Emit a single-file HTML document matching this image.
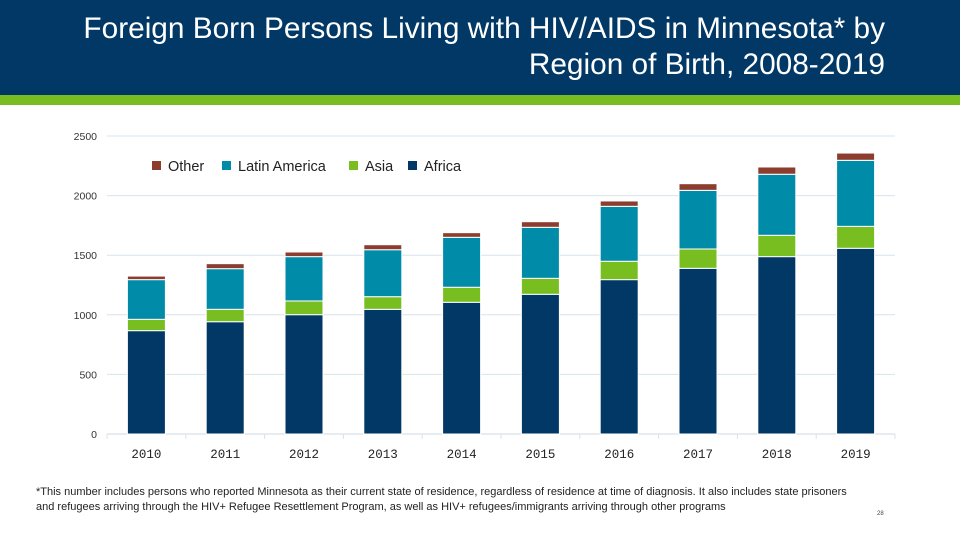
<!DOCTYPE html>
<html><head><meta charset="utf-8"><style>
body{margin:0;width:960px;height:540px;overflow:hidden;background:#fff;font-family:"Liberation Sans",sans-serif;position:relative}
#hdr{position:absolute;left:0;top:0;width:960px;height:95px;background:#013865}
#strip{position:absolute;left:0;top:95px;width:960px;height:10px;background:#78BE20}
#title{position:absolute;right:75px;top:11px;color:#fff;font-size:29.8px;line-height:36px;text-align:right;font-family:"Liberation Sans",sans-serif}
#foot{position:absolute;left:36px;top:485px;font-size:11px;line-height:14.5px;color:#222;white-space:nowrap}
#pg{position:absolute;left:877px;top:511px;font-size:6px;color:#444}
svg{position:absolute;left:0;top:0}
</style></head><body>
<div id="hdr"></div>
<div id="strip"></div>
<div id="title">Foreign Born Persons Living with HIV/AIDS in Minnesota* by<br>Region of Birth, 2008-2019</div>
<svg id="chart" width="960" height="540"></svg>
<div id="foot">*This number includes persons who reported Minnesota as their current state of residence, regardless of residence at time of diagnosis. It also includes state prisoners<br>and refugees arriving through the HIV+ Refugee Resettlement Program, as well as HIV+ refugees/immigrants arriving through other programs</div>
<div id="pg">28</div>
<script>
const years=["2010","2011","2012","2013","2014","2015","2016","2017","2018","2019"];
const africa=[867,942,1001,1046,1105,1172,1295,1390,1488,1558];
const asia=[95,104,115,106,126,134,154,162,179,184];
const latin=[333,341,372,394,419,428,461,492,512,554];
const other=[30,42,39,42,39,47,45,56,61,61];
const yTicks=[0,500,1000,1500,2000,2500];
const seriesNames=["Other","Latin America","Asia","Africa"];
const colors={Africa:"#013865",Asia:"#78BE20",Latin:"#008CA8",Other:"#8C3D2E"};
const NS="http://www.w3.org/2000/svg";
const svg=document.getElementById('chart');
const X0=107,X1=895,Y0=434,YMAX=2500,H=298;
const band=(X1-X0)/years.length;
function y(v){return Y0-v*H/YMAX;}
function xc(i){return X0+band*(i+0.5);}
function el(t,a){const e=document.createElementNS(NS,t);for(const k in a)e.setAttribute(k,a[k]);svg.appendChild(e);return e;}
yTicks.forEach(t=>{
 const l=el('line',{x1:X0,x2:X1,y1:y(t),y2:y(t),stroke:t===0?'#ccd9e0':'#d6e4ec','stroke-width':1});
 
 
 const tx=el('text',{x:97,y:y(t)+4,'text-anchor':'end','font-size':10.5,fill:'#333'});
 tx.textContent=t;
 
 
});
for(let i=0;i<=years.length;i++){
 const l=el('line',{x1:X0+band*i,x2:X0+band*i,y1:Y0,y2:Y0+5,stroke:'#d6e4ec'});
 
 
}
const bw=38;
years.forEach((yr,i)=>{
 const stack=[["Africa",africa[i]],["Asia",asia[i]],["Latin",latin[i]],["Other",other[i]]];
 let base=0;
 stack.forEach(([n,v])=>{
  const r=el('rect',{x:xc(i)-bw/2,y:y(base+v),width:bw,height:v*H/YMAX,fill:colors[n],stroke:'#fff','stroke-width':1});
  
  
  base+=v;
 });
 const t=el('text',{x:xc(i),y:458,'text-anchor':'middle','font-size':12.5,fill:'#222','font-family':'Liberation Mono, monospace'});
 t.textContent=yr;
 
 
});
const legX=[152,222,349,408];
const legC=[colors.Other,colors.Latin,colors.Asia,colors.Africa];
seriesNames.forEach((n,i)=>{
 const r=el('rect',{x:legX[i],y:161,width:9,height:9,fill:legC[i]});
 
 
 const t=el('text',{x:legX[i]+16,y:171,'font-size':14.5,fill:'#222'});
 t.textContent=n;
 
 
});
</script>
</body></html>
